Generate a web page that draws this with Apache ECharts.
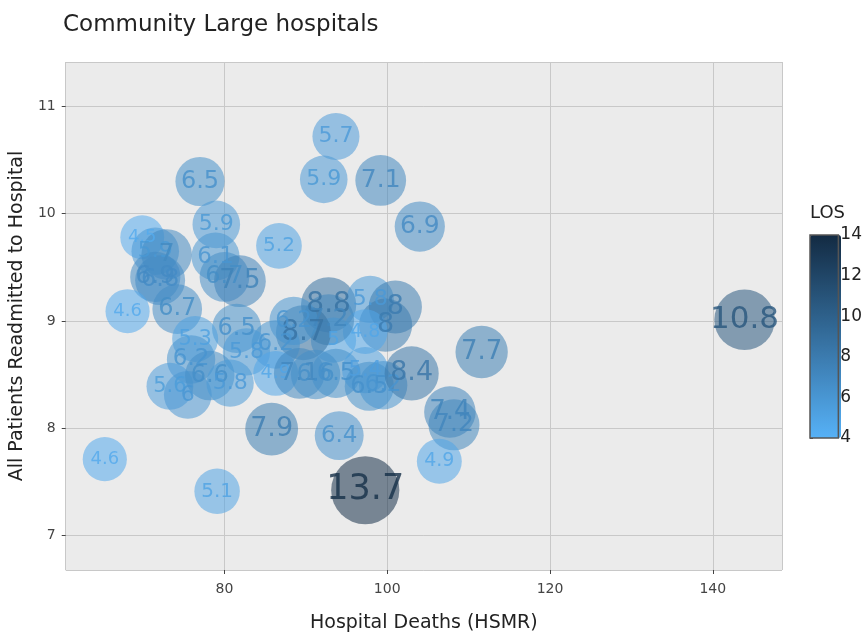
<!DOCTYPE html>
<html>
<head>
<meta charset="utf-8">
<title>Community Large hospitals</title>
<script src="https://cdn.jsdelivr.net/npm/echarts@6/dist/echarts.min.js"></script>
<style>
  html, body { margin: 0; padding: 0; background: #fff; }
  #chart { width: 865px; height: 638px; }
</style>
</head>
<body>
<div id="chart"></div>
<script>
// hospital standardised mortality ratio (x), readmission % (y), length of stay (colour/size)
const hsmr = [93.7, 92.2, 99.2, 77.0, 104.0, 79.0, 86.7, 69.9, 71.5, 72.9, 78.9, 72.1, 71.5,
  80.0, 81.9, 68.1, 74.2, 143.9, 92.8, 97.9, 101.0, 99.8, 97.3, 93.4, 92.8, 89.7, 88.5, 86.3,
  81.5, 76.4, 75.9, 82.7, 73.3, 75.5, 78.2, 80.7, 86.3, 89.2, 91.2, 93.7, 97.3, 97.8, 99.5,
  103.0, 111.6, 107.7, 108.2, 106.4, 85.8, 94.1, 65.3, 79.1, 97.3];
const readmit = [10.72, 10.32, 10.31, 10.30, 9.88, 9.90, 9.70, 9.78, 9.65, 9.62, 9.60, 9.38, 9.41,
  9.41, 9.37, 9.09, 9.11, 9.01, 9.15, 9.20, 9.13, 8.96, 8.90, 8.82, 9.01, 8.89, 9.00, 8.78,
  8.93, 8.83, 8.64, 8.71, 8.39, 8.31, 8.49, 8.42, 8.51, 8.51, 8.50, 8.51, 8.54, 8.39, 8.40,
  8.51, 8.71, 8.15, 8.03, 7.69, 7.99, 7.93, 7.71, 7.41, 7.42];
const los = [5.7, 5.9, 7.1, 6.5, 6.9, 5.9, 5.2, 4.5, 5.9, 7, 6.1, 6.8, 6.9,
  6.7, 7.5, 4.6, 6.7, 10.8, 8.8, 5.8, 8, 8, 4.8, 5, 7.2, 8.7, 6.2, 6.2,
  6.5, 5.3, 6.2, 5.8, 5.6, 6, 6.6, 5.8, 4.9, 7.1, 6.6, 6.5, 5.4, 6.5, 6.2,
  8.4, 7.7, 7.4, 7.2, 4.9, 7.9, 6.4, 4.6, 5.1, 13.7];

const losTicks = [4, 6, 8, 10, 12, 14];
const losColors = ['#56B1F7', '#132B43'];

const losMin = losTicks[0];
const losMax = losTicks[losTicks.length - 1];
const font = 'DejaVu Sans';

function losColor(v) {
  return echarts.color.lerp((v - losMin) / (losMax - losMin), losColors);
}

const points = hsmr.map((x, i) => {
  const v = los[i];
  const c = losColor(v);
  return {
    value: [x, readmit[i], v],
    itemStyle: { color: echarts.color.modifyAlpha(c, 0.68) },
    label: { color: c, fontSize: Math.round(1.05 * (14.1 * Math.log(v) - 3.9)) }
  };
});

const chart = echarts.init(document.getElementById('chart'));

chart.setOption({
  backgroundColor: '#fff',
  animation: false,
  title: [
    {
      text: 'Community Large hospitals',
      left: 58,
      top: 9,
      textStyle: { fontFamily: font, fontSize: 23, fontWeight: 'normal', color: '#222' }
    },
    {
      text: 'LOS',
      left: 810,
      top: 204,
      padding: 0,
      textStyle: { fontFamily: font, fontSize: 18, fontWeight: 'normal', color: '#222' }
    }
  ],
  grid: [
    {
      left: 62, right: 83, top: 62, bottom: 56,
      show: true, backgroundColor: '#ebebeb', borderWidth: 0
    },
    {
      left: 810, top: 235, width: 31, height: 203,
      show: true, backgroundColor: 'transparent', borderColor: '#555', borderWidth: 1.5, z: 10
    }
  ],
  visualMap: {
    type: 'continuous',
    min: losMin,
    max: losMax,
    seriesIndex: 1,
    calculable: false,
    left: 810,
    top: 235,
    padding: 0,
    itemWidth: 31,
    itemHeight: 203,
    inRange: { color: losColors },
    textStyle: { color: 'transparent' }
  },
  xAxis: [
    {
      type: 'value',
      min: 60.5,
      max: 148.5,
      splitNumber: 5,
      name: 'Hospital Deaths (HSMR)',
      nameLocation: 'middle',
      nameGap: 44,
      nameTextStyle: { fontFamily: font, fontSize: 19, color: '#222' },
      axisLine: { show: false },
      axisTick: { show: true, length: 4, lineStyle: { color: '#444' } },
      axisLabel: {
        showMinLabel: false, showMaxLabel: false,
        fontFamily: font, fontSize: 14, color: '#444', margin: 12
      },
      splitLine: { show: true, lineStyle: { color: '#c8c8c8', width: 1 } }
    },
    { gridIndex: 1, type: 'value', min: 0, max: 1, show: false }
  ],
  yAxis: [
    {
      type: 'value',
      min: 6.676,
      max: 11.415,
      splitNumber: 5,
      name: 'All Patients Readmitted to Hospital',
      nameLocation: 'middle',
      nameGap: 38,
      nameTextStyle: { fontFamily: font, fontSize: 19, color: '#222' },
      axisLine: { show: false },
      axisTick: { show: true, length: 4, lineStyle: { color: '#444' } },
      axisLabel: {
        showMinLabel: false, showMaxLabel: false,
        fontFamily: font, fontSize: 14, color: '#444', margin: 10
      },
      splitLine: { show: true, lineStyle: { color: '#c8c8c8', width: 1 } }
    },
    {
      gridIndex: 1,
      type: 'value',
      position: 'right',
      min: losMin,
      max: losMax,
      interval: 2,
      axisLine: { show: false },
      axisTick: { show: true, length: 3, lineStyle: { color: '#444' } },
      axisLabel: { fontFamily: font, fontSize: 17, color: '#222', margin: 2 },
      splitLine: { show: false }
    }
  ],
  series: [
    {
      type: 'scatter',
      data: points,
      symbolSize: (d) => 32 + 2.64 * d[2],
      label: {
        show: true,
        position: 'inside',
        fontFamily: font,
        formatter: (p) => String(p.value[2])
      }
    },
    { type: 'scatter', xAxisIndex: 1, yAxisIndex: 1, data: [] }
  ]
});
</script>
</body>
</html>
